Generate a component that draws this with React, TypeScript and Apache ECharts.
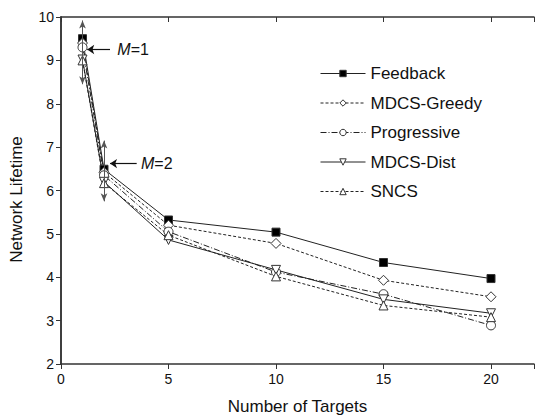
import React, { useEffect, useRef } from "react";
import * as echarts from "echarts";

const targets = [1, 2, 5, 10, 15, 20];
const feedback = [9.5, 6.49, 5.32, 5.04, 4.34, 3.97];
const mdcsGreedy = [9.4, 6.42, 5.2, 4.78, 3.93, 3.55];
const progressive = [9.3, 6.35, 5.05, 4.12, 3.61, 2.89];
const mdcsDist = [9.02, 6.2, 4.86, 4.17, 3.49, 3.17];
const sncs = [9.0, 6.17, 4.97, 4.02, 3.35, 3.08];

const xTicks = [0, 5, 10, 15, 20];
const yTicks = [2, 3, 4, 5, 6, 7, 8, 9, 10];

const FONT = "Liberation Sans, Arial, sans-serif";

export default function App() {
  const ref = useRef<HTMLDivElement>(null);
  useEffect(() => {
    const chart = echarts.init(ref.current!, null, { renderer: "svg" });
    const pts = (vals: number[]) => targets.map((t, i) => [t, vals[i]]);
    const mk = (
      name: string,
      vals: number[],
      symbol: string,
      type: any,
      filled: boolean,
      size: number,
      extra: any = {}
    ) => ({
      name,
      type: "line",
      data: pts(vals),
      symbol,
      symbolSize: size,
      showAllSymbol: true,
      lineStyle: { color: "#222", width: 1, type },
      itemStyle: {
        color: filled ? "#000" : "#fff",
        borderColor: "#333",
        borderWidth: 1,
      },
      emphasis: { disabled: true },
      z: 3,
      ...extra,
    });
    const arrowStyle = { color: "#555", width: 1, type: "solid" };
    chart.setOption({
      animation: false,
      grid: { left: 61, right: 1, top: 17, bottom: 52, containLabel: false },
      legend: {
        orient: "vertical",
        left: 315,
        top: 60,
        itemWidth: 45,
        itemHeight: 8,
        itemGap: 12.5,
        lineStyle: { width: 1 },
        itemStyle: { borderWidth: 1 },
        textStyle: { fontSize: 17, color: "#111", fontFamily: FONT, padding: [0, 0, 0, 0] },
        data: ["Feedback", "MDCS-Greedy", "Progressive", "MDCS-Dist", "SNCS"],
      },
      xAxis: [
        {
          type: "value",
          min: 0,
          max: 22,
          interval: 5,
          name: "Number of Targets",
          nameLocation: "middle",
          nameGap: 34,
          nameTextStyle: { fontSize: 17, color: "#111", fontFamily: FONT },
          axisLine: { lineStyle: { color: "#333", width: 1.5 } },
          axisTick: { inside: false, length: 5, lineStyle: { color: "#333" } },
          axisLabel: {
            fontSize: 14,
            color: "#111",
            fontFamily: FONT,
            margin: 8,
            formatter: (v: number) => (xTicks.includes(v) ? String(v) : ""),
          },
          splitLine: { show: false },
        },
        {
          type: "value",
          position: "top",
          min: 0,
          max: 22,
          interval: 5,
          axisLine: { show: true, lineStyle: { color: "#333", width: 1.5 } },
          axisTick: { show: true, inside: true, length: 5, lineStyle: { color: "#333" } },
          axisLabel: { show: false },
          splitLine: { show: false },
        },
      ],
      yAxis: [
        {
          type: "value",
          min: 2,
          max: 10,
          interval: 1,
          name: "Network Lifetime",
          nameLocation: "middle",
          nameGap: 36,
          nameTextStyle: { fontSize: 17, color: "#111", fontFamily: FONT, padding: [0, 18, 0, 0] },
          axisLine: { show: true, lineStyle: { color: "#333", width: 1.5 } },
          axisTick: { show: true, inside: false, length: 5, lineStyle: { color: "#333" } },
          axisLabel: {
            fontSize: 14,
            color: "#111",
            fontFamily: FONT,
            margin: 7,
            formatter: (v: number) => (yTicks.includes(v) ? String(v) : ""),
          },
          splitLine: { show: false },
        },
        {
          type: "value",
          position: "right",
          min: 2,
          max: 10,
          interval: 1,
          axisLine: { show: true, lineStyle: { color: "#333", width: 1.5 } },
          axisTick: { show: true, inside: true, length: 5, lineStyle: { color: "#333" } },
          axisLabel: { show: false },
          splitLine: { show: false },
        },
      ],
      series: [
        mk("Feedback", feedback, "rect", "solid", true, 8, {
          markLine: {
            silent: true,
            symbol: ["arrow", "arrow"],
            symbolSize: [5, 8],
            lineStyle: arrowStyle,
            label: { show: false },
            data: [
              [{ coord: [1, 9.92] }, { coord: [1, 8.45] }],
              [{ coord: [2, 7.15] }, { coord: [2, 5.75] }],
            ],
          },
        }),
        mk("MDCS-Greedy", mdcsGreedy, "diamond", [3, 2], false, 10, {
          markLine: {
            silent: true,
            symbol: ["none", "arrow"],
            symbolSize: 7,
            lineStyle: { color: "#111", width: 1.2, type: "solid" },
            label: { show: false },
            data: [
              [{ coord: [2.28, 9.25] }, { coord: [1.22, 9.25] }],
              [{ coord: [3.52, 6.62] }, { coord: [2.28, 6.62] }],
            ],
          },
          markPoint: {
            silent: true,
            symbol: "circle",
            symbolSize: 0,
            label: {
              show: true,
              position: "right",
              distance: 0,
              formatter: (p: any) => `{i|M}{n|=${p.name}}`,
              rich: {
                i: { fontStyle: "italic", fontSize: 16, color: "#111", fontFamily: FONT },
                n: { fontSize: 16, color: "#111", fontFamily: FONT },
              },
            },
            data: [
              { name: "1", coord: [2.62, 9.25] },
              { name: "2", coord: [3.72, 6.62] },
            ],
          },
        }),
        mk("Progressive", progressive, "circle", [6, 2, 1, 2], false, 9),
        mk("MDCS-Dist", mdcsDist, "triangle", "solid", false, 9, { symbolRotate: 180 }),
        mk("SNCS", sncs, "triangle", [3, 2], false, 9),
      ],
    });
    return () => chart.dispose();
  }, []);
  return <div ref={ref} style={{ width: 537, height: 420, position: "absolute", left: 0, top: 0, background: "#fff" }} />;
}
